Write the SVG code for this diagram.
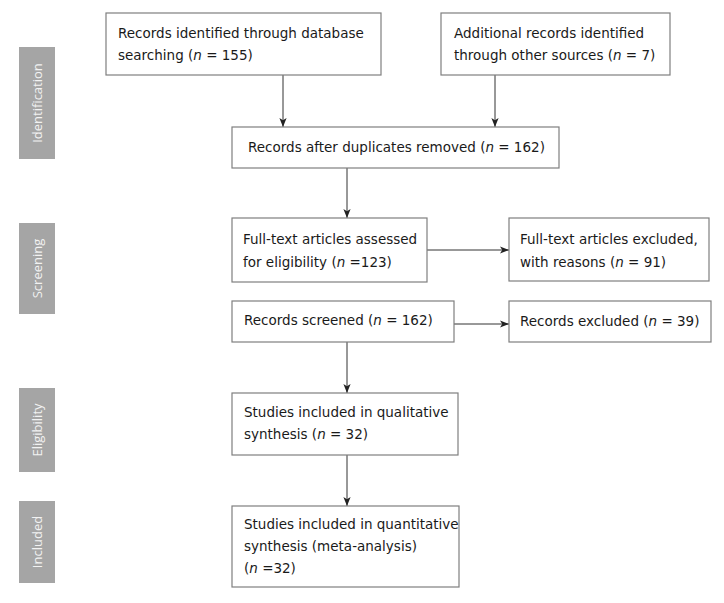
<svg xmlns="http://www.w3.org/2000/svg" width="724" height="603" viewBox="0 0 724 603">
<style>
.box{fill:#fff;stroke:#7f7f7f;stroke-width:1.2}
.t{font-family:"DejaVu Sans",Verdana,sans-serif;font-size:13.5px;fill:#1a1a1a}
.side{fill:#a5a5a5}
.st{font-family:"Open Sans","DejaVu Sans",sans-serif;font-size:13px;fill:#f2f2f2;text-anchor:middle}
.c{stroke:#333;stroke-width:1;fill:none;marker-end:url(#ah)}
</style>
<defs>
<marker id="ah" viewBox="0 0 10 10" refX="10" refY="5" markerWidth="9" markerHeight="9" markerUnits="userSpaceOnUse" orient="auto">
<path d="M0,1 L10,5 L0,9 L2.5,5 z" fill="#222"/>
</marker>
</defs>
<g id="sidebars">
<g id="side-identification"><rect class="side" x="19" y="47" width="36" height="112"/><text class="st" transform="translate(42,103) rotate(-90)">Identification</text></g>
<g id="side-screening"><rect class="side" x="19" y="223" width="36" height="91"/><text class="st" transform="translate(42,268.5) rotate(-90)">Screening</text></g>
<g id="side-eligibility"><rect class="side" x="19" y="388" width="36" height="84"/><text class="st" transform="translate(42,430) rotate(-90)">Eligibility</text></g>
<g id="side-included"><rect class="side" x="19" y="501" width="36" height="82"/><text class="st" transform="translate(42,542) rotate(-90)">Included</text></g>
</g>
<g id="connectors">
<line class="c" x1="283" y1="75" x2="283" y2="127"/>
<line class="c" x1="495" y1="75" x2="495" y2="127"/>
<line class="c" x1="347" y1="168" x2="347" y2="218"/>
<line class="c" x1="427" y1="250" x2="509" y2="250"/>
<line class="c" x1="454" y1="324" x2="509" y2="324"/>
<line class="c" x1="347" y1="342" x2="347" y2="393"/>
<line class="c" x1="347" y1="455" x2="347" y2="506"/>
</g>
<g id="n1"><rect class="box" x="106" y="13" width="275" height="62"/><text class="t" x="118" y="38">Records identified through database</text><text class="t" x="118" y="60">searching (<tspan font-style="italic">n</tspan> = 155)</text></g>
<g id="n2"><rect class="box" x="441" y="13" width="229" height="62"/><text class="t" x="454" y="38">Additional records identified</text><text class="t" x="454" y="60">through other sources (<tspan font-style="italic">n</tspan> = 7)</text></g>
<g id="n3"><rect class="box" x="232" y="127" width="327" height="41"/><text class="t" x="248" y="152">Records after duplicates removed (<tspan font-style="italic">n</tspan> = 162)</text></g>
<g id="n4"><rect class="box" x="232" y="218" width="195" height="64"/><text class="t" x="243" y="244">Full-text articles assessed</text><text class="t" x="243" y="267">for eligibility (<tspan font-style="italic">n</tspan> =123)</text></g>
<g id="n5"><rect class="box" x="509" y="218" width="200" height="63"/><text class="t" x="520" y="244">Full-text articles excluded,</text><text class="t" x="520" y="267">with reasons (<tspan font-style="italic">n</tspan> = 91)</text></g>
<g id="n6"><rect class="box" x="232" y="301" width="222" height="41"/><text class="t" x="244" y="325">Records screened (<tspan font-style="italic">n</tspan> = 162)</text></g>
<g id="n7"><rect class="box" x="509" y="301" width="202" height="41"/><text class="t" x="520" y="326">Records excluded (<tspan font-style="italic">n</tspan> = 39)</text></g>
<g id="n8"><rect class="box" x="232" y="393" width="226" height="62"/><text class="t" x="244" y="417">Studies included in qualitative</text><text class="t" x="244" y="439">synthesis (<tspan font-style="italic">n</tspan> = 32)</text></g>
<g id="n9"><rect class="box" x="232" y="506" width="227" height="81"/><text class="t" x="244" y="529">Studies included in quantitative</text><text class="t" x="244" y="551">synthesis (meta-analysis)</text><text class="t" x="244" y="573">(<tspan font-style="italic">n</tspan> =32)</text></g>
</svg>
